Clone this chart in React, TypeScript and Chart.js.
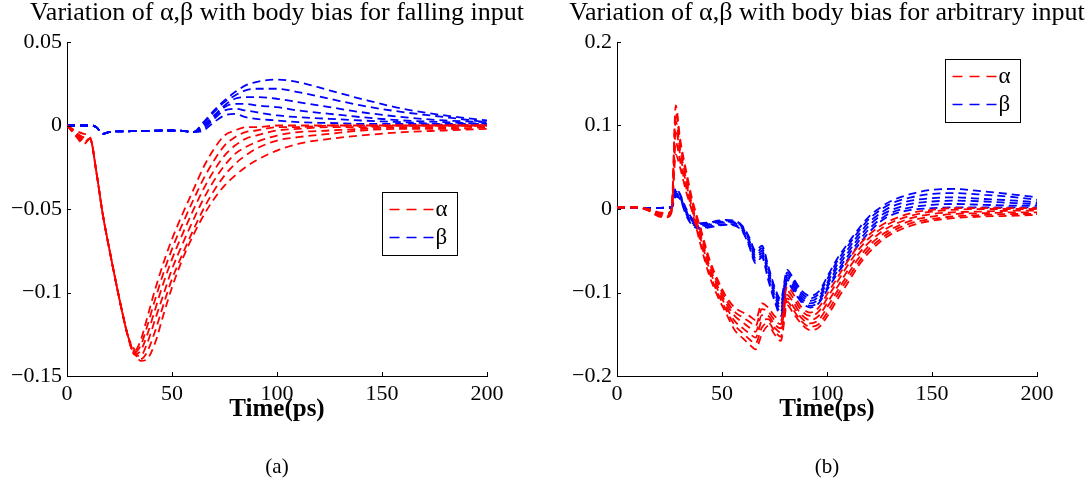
import { useEffect, useRef } from "react";
import { Chart, registerables } from "chart.js";

Chart.register(...registerables);

const FONT = "'Liberation Serif', 'Times New Roman', 'DejaVu Serif', serif";

// ---------- Panel (a): falling input ----------
const timeA = [0, 4, 8, 11, 14, 17, 20, 23, 26, 29, 32, 35, 38, 42, 46, 50, 55, 60, 65, 70, 75, 80, 85, 90, 100, 110, 125, 140, 160, 180, 200];

const alphaA1 = [0, -0.003, -0.005, -0.007, -0.028, -0.053, -0.073, -0.092, -0.110, -0.126, -0.135, -0.129, -0.116, -0.098, -0.082, -0.068, -0.053, -0.039, -0.025, -0.014, -0.006, -0.003, -0.001, -0.001, 0, 0, 0, 0, 0, 0, 0];
const alphaA2 = [0, -0.004, -0.007, -0.008, -0.028, -0.053, -0.073, -0.092, -0.110, -0.126, -0.136, -0.132, -0.121, -0.104, -0.088, -0.074, -0.059, -0.045, -0.032, -0.021, -0.012, -0.007, -0.004, -0.003, -0.001, -0.001, 0, 0, 0, 0, 0];
const alphaA3 = [0, -0.004, -0.008, -0.008, -0.028, -0.053, -0.073, -0.092, -0.110, -0.126, -0.137, -0.135, -0.126, -0.110, -0.094, -0.080, -0.065, -0.051, -0.038, -0.027, -0.018, -0.012, -0.008, -0.006, -0.003, -0.002, -0.001, -0.001, 0, 0, 0];
const alphaA4 = [0, -0.005, -0.009, -0.008, -0.028, -0.053, -0.073, -0.092, -0.110, -0.126, -0.137, -0.138, -0.131, -0.116, -0.101, -0.086, -0.071, -0.057, -0.044, -0.033, -0.024, -0.017, -0.013, -0.010, -0.006, -0.004, -0.003, -0.002, -0.001, -0.001, 0];
const alphaA5 = [0, -0.005, -0.010, -0.008, -0.028, -0.053, -0.073, -0.092, -0.110, -0.126, -0.136, -0.140, -0.136, -0.123, -0.107, -0.092, -0.077, -0.063, -0.050, -0.039, -0.030, -0.023, -0.018, -0.014, -0.009, -0.007, -0.005, -0.003, -0.002, -0.002, -0.001];
const alphaA6 = [0, -0.006, -0.011, -0.008, -0.028, -0.053, -0.073, -0.092, -0.110, -0.126, -0.134, -0.141, -0.140, -0.130, -0.113, -0.097, -0.080, -0.066, -0.054, -0.044, -0.036, -0.030, -0.025, -0.021, -0.015, -0.011, -0.008, -0.006, -0.004, -0.003, -0.002];

const betaA1 = [0, 0, 0, 0, -0.001, -0.005, -0.004, -0.0035, -0.0035, -0.0035, -0.0033, -0.0033, -0.0032, -0.0031, -0.003, -0.003, -0.0032, -0.004, 0.002, 0.009, 0.015, 0.020, 0.024, 0.026, 0.0275, 0.026, 0.021, 0.016, 0.010, 0.006, 0.003];
const betaA2 = [0, 0, 0, 0, -0.001, -0.005, -0.004, -0.0035, -0.0035, -0.0035, -0.0033, -0.0033, -0.0032, -0.0031, -0.003, -0.003, -0.0032, -0.004, 0.001, 0.008, 0.014, 0.018, 0.021, 0.022, 0.022, 0.020, 0.016, 0.012, 0.008, 0.005, 0.002];
const betaA3 = [0, 0, 0, 0, -0.001, -0.005, -0.004, -0.0035, -0.0035, -0.0035, -0.0033, -0.0033, -0.0032, -0.0031, -0.003, -0.003, -0.0032, -0.004, 0.0, 0.006, 0.012, 0.016, 0.017, 0.017, 0.016, 0.014, 0.011, 0.008, 0.005, 0.003, 0.002];
const betaA4 = [0, 0, 0, 0, -0.001, -0.005, -0.004, -0.0035, -0.0035, -0.0035, -0.0033, -0.0033, -0.0032, -0.0031, -0.003, -0.003, -0.0032, -0.004, -0.001, 0.005, 0.011, 0.013, 0.013, 0.012, 0.011, 0.009, 0.007, 0.005, 0.003, 0.002, 0.001];
const betaA5 = [0, 0, 0, 0, -0.001, -0.005, -0.004, -0.0035, -0.0035, -0.0035, -0.0033, -0.0033, -0.0032, -0.0031, -0.003, -0.003, -0.0032, -0.004, -0.002, 0.004, 0.009, 0.010, 0.009, 0.008, 0.006, 0.005, 0.004, 0.003, 0.002, 0.001, 0.001];
const betaA6 = [0, 0, 0, 0, -0.001, -0.005, -0.004, -0.0035, -0.0035, -0.0035, -0.0033, -0.0033, -0.0032, -0.0031, -0.003, -0.003, -0.0032, -0.004, -0.003, 0.002, 0.006, 0.007, 0.005, 0.004, 0.003, 0.002, 0.0015, 0.001, 0.001, 0.0005, 0];

// ---------- Panel (b): arbitrary input ----------
const timeB = [0, 10, 15, 20, 24, 26, 28, 30, 33, 36, 40, 44, 48, 52, 56, 60, 63, 66, 69, 72, 75, 78, 81, 84, 88, 92, 96, 101, 105, 110, 115, 120, 125, 130, 140, 150, 160, 175, 190, 200];

const alphaB1 = [0.002, 0.002, 0.0, -0.004, -0.005, 0.0, 0.124, 0.085, 0.045, 0.01, -0.025, -0.06, -0.085, -0.105, -0.118, -0.124, -0.128, -0.133, -0.113, -0.118, -0.128, -0.133, -0.093, -0.102, -0.118, -0.124, -0.118, -0.098, -0.082, -0.062, -0.044, -0.031, -0.021, -0.014, -0.005, -0.001, 0.001, 0.001, 0.001, 0.001];
const alphaB2 = [0.002, 0.002, -0.001, -0.005, -0.006, -0.001, 0.115, 0.08, 0.04, 0.006, -0.029, -0.064, -0.089, -0.109, -0.123, -0.13, -0.135, -0.14, -0.12, -0.123, -0.133, -0.138, -0.098, -0.107, -0.122, -0.128, -0.123, -0.103, -0.087, -0.067, -0.049, -0.035, -0.025, -0.017, -0.008, -0.003, -0.001, 0.0, 0.0, 0.0];
const alphaB3 = [0.002, 0.002, -0.001, -0.006, -0.007, -0.002, 0.105, 0.072, 0.035, 0.002, -0.033, -0.068, -0.093, -0.113, -0.128, -0.136, -0.142, -0.147, -0.127, -0.128, -0.138, -0.143, -0.103, -0.112, -0.127, -0.133, -0.128, -0.109, -0.093, -0.073, -0.054, -0.04, -0.029, -0.021, -0.011, -0.006, -0.004, -0.003, -0.002, -0.002];
const alphaB4 = [0.002, 0.002, -0.001, -0.007, -0.008, -0.002, 0.095, 0.066, 0.03, -0.001, -0.037, -0.072, -0.097, -0.117, -0.134, -0.143, -0.149, -0.154, -0.134, -0.132, -0.142, -0.148, -0.107, -0.117, -0.131, -0.137, -0.133, -0.114, -0.098, -0.078, -0.059, -0.044, -0.033, -0.025, -0.014, -0.009, -0.006, -0.005, -0.004, -0.004];
const alphaB5 = [0.002, 0.002, -0.002, -0.008, -0.009, -0.003, 0.08, 0.058, 0.025, -0.003, -0.041, -0.076, -0.101, -0.121, -0.139, -0.149, -0.156, -0.161, -0.142, -0.136, -0.146, -0.153, -0.111, -0.121, -0.135, -0.141, -0.138, -0.12, -0.103, -0.083, -0.064, -0.048, -0.037, -0.028, -0.017, -0.012, -0.009, -0.007, -0.006, -0.006];
const alphaB6 = [0.002, 0.002, -0.002, -0.009, -0.01, -0.004, 0.065, 0.05, 0.02, -0.005, -0.045, -0.08, -0.105, -0.125, -0.145, -0.155, -0.162, -0.168, -0.15, -0.14, -0.15, -0.158, -0.115, -0.125, -0.138, -0.145, -0.142, -0.125, -0.108, -0.088, -0.068, -0.052, -0.04, -0.031, -0.02, -0.014, -0.011, -0.009, -0.008, -0.007];

const betaB1 = [0.001, 0.001, 0.001, 0.001, 0.002, 0.003, 0.025, 0.018, 0.0, -0.012, -0.017, -0.016, -0.014, -0.013, -0.014, -0.021, -0.034, -0.05, -0.044, -0.068, -0.093, -0.108, -0.073, -0.083, -0.098, -0.104, -0.099, -0.077, -0.059, -0.041, -0.024, -0.009, 0.001, 0.009, 0.018, 0.023, 0.024, 0.021, 0.017, 0.014];
const betaB2 = [0.001, 0.001, 0.001, 0.001, 0.002, 0.002, 0.023, 0.017, -0.002, -0.014, -0.018, -0.017, -0.015, -0.014, -0.015, -0.022, -0.036, -0.053, -0.047, -0.071, -0.096, -0.112, -0.076, -0.086, -0.101, -0.107, -0.102, -0.08, -0.062, -0.044, -0.027, -0.012, -0.002, 0.006, 0.014, 0.018, 0.019, 0.017, 0.014, 0.011];
const betaB3 = [0.001, 0.001, 0.001, 0.001, 0.001, 0.002, 0.021, 0.015, -0.003, -0.015, -0.02, -0.018, -0.016, -0.015, -0.016, -0.023, -0.038, -0.056, -0.05, -0.074, -0.1, -0.116, -0.079, -0.089, -0.104, -0.11, -0.105, -0.084, -0.066, -0.048, -0.031, -0.016, -0.006, 0.002, 0.01, 0.013, 0.014, 0.012, 0.01, 0.008];
const betaB4 = [0.001, 0.001, 0.001, 0.001, 0.001, 0.002, 0.019, 0.014, -0.005, -0.017, -0.021, -0.019, -0.017, -0.016, -0.017, -0.025, -0.04, -0.059, -0.053, -0.078, -0.103, -0.12, -0.082, -0.092, -0.107, -0.113, -0.108, -0.087, -0.07, -0.052, -0.035, -0.02, -0.009, -0.002, 0.006, 0.009, 0.01, 0.009, 0.007, 0.006];
const betaB5 = [0.001, 0.001, 0.001, 0.001, 0.001, 0.001, 0.017, 0.013, -0.006, -0.018, -0.023, -0.021, -0.019, -0.018, -0.019, -0.027, -0.043, -0.062, -0.056, -0.082, -0.107, -0.124, -0.085, -0.095, -0.11, -0.116, -0.111, -0.09, -0.074, -0.056, -0.039, -0.024, -0.013, -0.005, 0.002, 0.005, 0.006, 0.005, 0.004, 0.004];
const betaB6 = [0.001, 0.001, 0.001, 0.001, 0.001, 0.001, 0.015, 0.012, -0.008, -0.02, -0.024, -0.022, -0.02, -0.019, -0.02, -0.028, -0.045, -0.065, -0.058, -0.085, -0.11, -0.128, -0.088, -0.098, -0.112, -0.118, -0.113, -0.093, -0.077, -0.06, -0.043, -0.028, -0.016, -0.008, -0.001, 0.001, 0.002, 0.002, 0.002, 0.002];

const xTicks = [0, 50, 100, 150, 200];
const legendLabels = ["\u03b1", "\u03b2"];
const RED = "#ff0000";
const BLUE = "#0000ff";

const fmt = (v: number) => {
  const r = Math.round(v * 100) / 100;
  if (r === 0) return "0";
  return String(r).replace("-", "\u2212");
};

const inwardTicks = {
  id: "inwardTicks",
  afterDraw(chart: any) {
    const { ctx, chartArea } = chart;
    const xs = chart.scales.x;
    const ys = chart.scales.y;
    ctx.save();
    ctx.strokeStyle = "#000";
    ctx.lineWidth = 1;
    ctx.setLineDash([]);
    ctx.beginPath();
    xs.ticks.forEach((t: any) => {
      const px = Math.round(xs.getPixelForValue(t.value)) + 0.5;
      ctx.moveTo(px, chartArea.bottom);
      ctx.lineTo(px, chartArea.bottom - 4);
    });
    ys.ticks.forEach((t: any) => {
      const py = Math.round(ys.getPixelForValue(t.value)) + 0.5;
      ctx.moveTo(chartArea.left, py);
      ctx.lineTo(chartArea.left + 4, py);
    });
    ctx.stroke();
    ctx.restore();
  },
};

const boxLegend = {
  id: "boxLegend",
  afterDraw(chart: any, _args: any, opts: any) {
    const { ctx, chartArea } = chart;
    const bx = Math.round(chartArea.left + opts.dx) + 0.5;
    const by = Math.round(chartArea.top + opts.dy) + 0.5;
    const w = 75;
    const h = 63;
    ctx.save();
    ctx.fillStyle = "#fff";
    ctx.fillRect(bx, by, w, h);
    ctx.strokeStyle = "#000";
    ctx.lineWidth = 1;
    ctx.setLineDash([]);
    ctx.strokeRect(bx, by, w, h);
    const colors = [RED, BLUE];
    legendLabels.forEach((lab, i) => {
      const y = by + 17 + i * 28;
      ctx.strokeStyle = colors[i];
      ctx.lineWidth = 1.5;
      ctx.setLineDash([10, 7]);
      ctx.beginPath();
      ctx.moveTo(bx + 7, y);
      ctx.lineTo(bx + 51, y);
      ctx.stroke();
      ctx.setLineDash([]);
      ctx.fillStyle = "#000";
      ctx.font = `23px ${FONT}`;
      ctx.textAlign = "left";
      ctx.textBaseline = "middle";
      ctx.fillText(lab, bx + 53, y);
    });
    ctx.restore();
  },
};

function makeDatasets(times: number[], reds: number[][], blues: number[][]) {
  const mk = (arr: number[], color: string) => ({
    data: times.map((t, i) => ({ x: t, y: arr[i] })),
    borderColor: color,
    borderWidth: 1.8,
    borderDash: [8, 5],
    pointRadius: 0,
    fill: false,
    cubicInterpolationMode: "monotone" as const,
  });
  return [...reds.map((a) => mk(a, RED)), ...blues.map((a) => mk(a, BLUE))];
}

function makeConfig(p: {
  title: string;
  sub: string;
  times: number[];
  reds: number[][];
  blues: number[][];
  yMin: number;
  yMax: number;
  yStep: number;
  yAxisWidth: number;
  padRight: number;
  legendDx: number;
  legendDy: number;
}): any {
  return {
    type: "line",
    data: { datasets: makeDatasets(p.times, p.reds, p.blues) },
    plugins: [inwardTicks, boxLegend],
    options: {
      responsive: false,
      animation: false,
      events: [],
      layout: { padding: { left: 0, right: 0, top: 0, bottom: 8.4 } },
      plugins: {
        legend: { display: false },
        tooltip: { enabled: false },
        title: {
          display: true,
          text: p.title,
          color: "#000",
          font: { family: FONT, size: 26, weight: "normal", lineHeight: 1.0 },
          padding: { top: 0, bottom: 16 },
        },
        subtitle: {
          display: true,
          position: "bottom",
          text: p.sub,
          color: "#000",
          font: { family: FONT, size: 21, weight: "normal", lineHeight: 1.2 },
          padding: { top: 29.4, bottom: 0 },
        },
        boxLegend: { dx: p.legendDx, dy: p.legendDy },
      },
      scales: {
        x: {
          type: "linear",
          min: 0,
          max: 200,
          afterBuildTicks: (s: any) => {
            s.ticks = xTicks.map((v) => ({ value: v }));
          },
          ticks: {
            color: "#000",
            font: { family: FONT, size: 22 },
            padding: 4.8,
            maxRotation: 0,
            callback: (v: any) => String(v),
          },
          grid: { drawOnChartArea: false, drawTicks: false },
          border: { display: true, color: "#000", width: 1 },
          title: {
            display: true,
            text: "Time(ps)",
            color: "#000",
            font: { family: FONT, size: 25, weight: "bold", lineHeight: 1.2 },
            padding: { top: 0, bottom: 0 },
          },
          afterFit: (s: any) => {
            s.height = 49;
          },
        },
        y: {
          type: "linear",
          position: "left",
          min: p.yMin,
          max: p.yMax,
          ticks: {
            stepSize: p.yStep,
            color: "#000",
            font: { family: FONT, size: 22 },
            padding: 5,
            callback: (v: any) => fmt(Number(v)),
          },
          grid: { drawOnChartArea: false, drawTicks: false },
          border: { display: true, color: "#000", width: 1 },
          afterFit: (s: any) => {
            s.width = p.yAxisWidth;
          },
        },
        yPad: {
          type: "linear",
          position: "right",
          display: true,
          ticks: { display: false },
          grid: { display: false, drawTicks: false },
          border: { display: false },
          afterFit: (s: any) => {
            s.width = p.padRight;
          },
        },
      },
    },
  };
}

export default function App() {
  const leftRef = useRef<HTMLCanvasElement | null>(null);
  const rightRef = useRef<HTMLCanvasElement | null>(null);

  useEffect(() => {
    const c1 = new Chart(
      leftRef.current as HTMLCanvasElement,
      makeConfig({
        title: "Variation of \u03b1,\u03b2 with body bias for falling input",
        sub: "(a)",
        times: timeA,
        reds: [alphaA1, alphaA2, alphaA3, alphaA4, alphaA5, alphaA6],
        blues: [betaA1, betaA2, betaA3, betaA4, betaA5, betaA6],
        yMin: -0.15,
        yMax: 0.05,
        yStep: 0.05,
        yAxisWidth: 67,
        padRight: 67,
        legendDx: 315,
        legendDy: 150,
      })
    );
    const c2 = new Chart(
      rightRef.current as HTMLCanvasElement,
      makeConfig({
        title: "Variation of \u03b1,\u03b2 with body bias for arbitrary input",
        sub: "(b)",
        times: timeB,
        reds: [alphaB1, alphaB2, alphaB3, alphaB4, alphaB5, alphaB6],
        blues: [betaB1, betaB2, betaB3, betaB4, betaB5, betaB6],
        yMin: -0.2,
        yMax: 0.2,
        yStep: 0.1,
        yAxisWidth: 53,
        padRight: 53,
        legendDx: 328,
        legendDy: 17,
      })
    );
    return () => {
      c1.destroy();
      c2.destroy();
    };
  }, []);

  return (
    <div style={{ position: "fixed", left: 0, top: 0, width: 1090, height: 488, background: "#fff" }}>
      <canvas
        ref={leftRef}
        width={554}
        height={488}
        style={{ position: "absolute", left: 0, top: 0, width: 554, height: 488 }}
      />
      <canvas
        ref={rightRef}
        width={526}
        height={488}
        style={{ position: "absolute", left: 564, top: 0, width: 526, height: 488 }}
      />
    </div>
  );
}
